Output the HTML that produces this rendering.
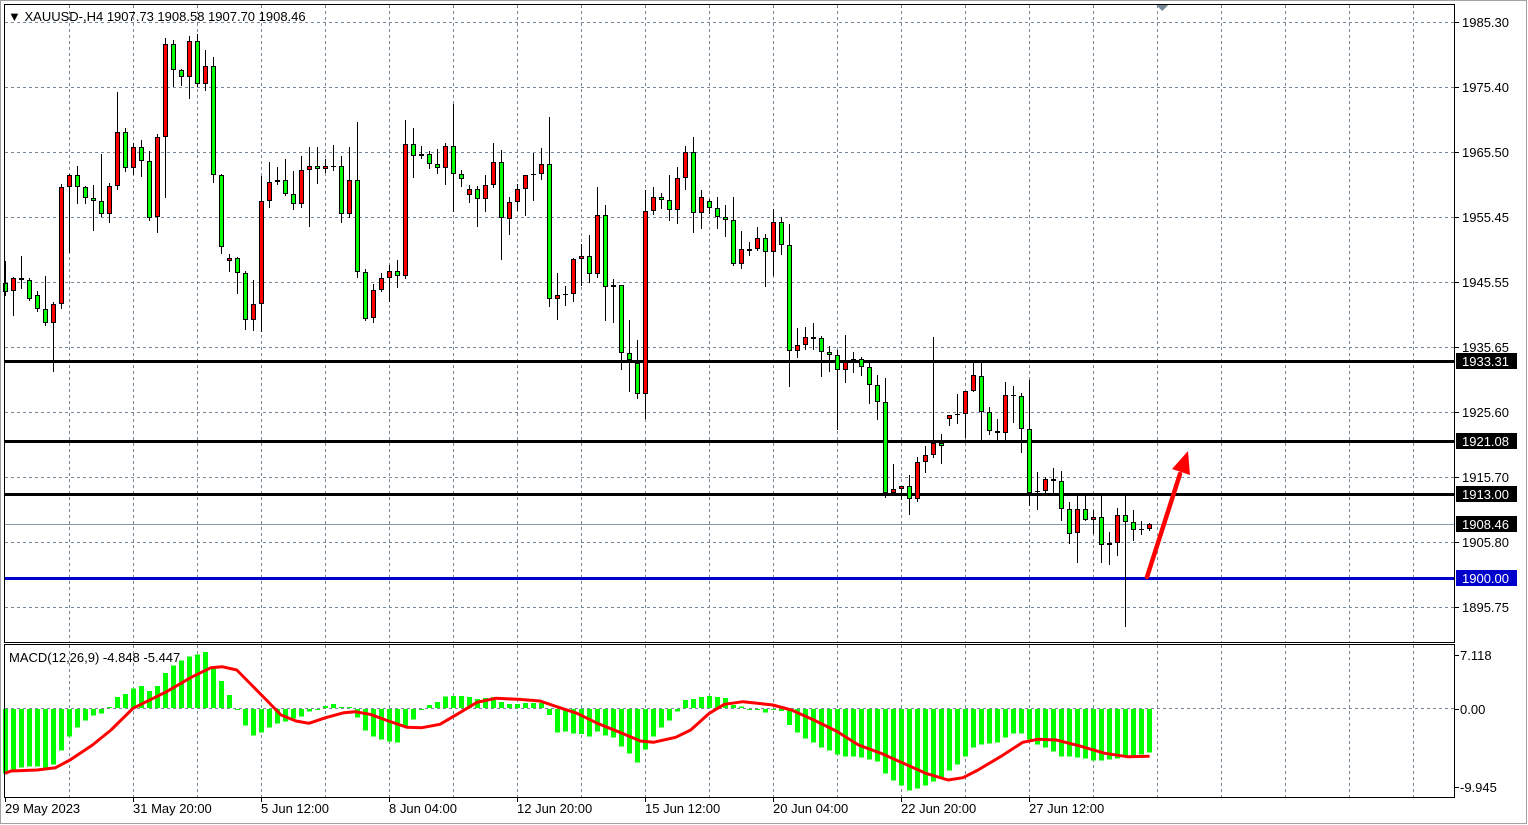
<!DOCTYPE html>
<html><head><meta charset="utf-8"><style>
body{margin:0;background:#fff;width:1528px;height:825px;overflow:hidden}
svg{display:block}
text{font-family:"Liberation Sans",Arial,sans-serif;font-size:13px;fill:#000}
</style></head><body>
<svg id="s" width="1528" height="825" xmlns="http://www.w3.org/2000/svg" shape-rendering="crispEdges">
<rect x="0" y="0" width="1528" height="825" fill="#fff"/>
<rect x="0.5" y="0.5" width="1526" height="823" fill="none" stroke="#a0a0a0"/>
<g id="grid" stroke="#778899" stroke-dasharray="3,3" stroke-width="1"></g>
<g id="lv"></g>
<g id="macd"></g>
<g id="cand"></g>
<!-- frames -->
<rect x="4.5" y="4.5" width="1450" height="638" fill="none" stroke="#000"/>
<rect x="4.5" y="644.5" width="1450" height="153" fill="none" stroke="#000"/>
<polygon points="1156,5 1168,5 1162,11" fill="#778899"/>
<text x="8" y="21">▼ XAUUSD-,H4  1907.73 1908.58 1907.70 1908.46</text>
<text x="9" y="662">MACD(12,26,9) -4.848 -5.447</text>
<g id="ax"></g>
<g shape-rendering="auto">
<line x1="1147" y1="577" x2="1180" y2="474" stroke="#ff0000" stroke-width="4.5" stroke-linecap="round"/>
<polygon points="1188,451 1190,475 1172,469" fill="#ff0000"/>
</g>
</svg>
<script>
var NS="http://www.w3.org/2000/svg";
function el(p,t,a,txt){var e=document.createElementNS(NS,t);for(var k in a)e.setAttribute(k,a[k]);if(txt!==undefined)e.textContent=txt;document.getElementById(p).appendChild(e);return e;}
// grid
for(var x=69;x<=1413;x+=64){el("grid","line",{x1:x+.5,y1:5,x2:x+.5,y2:642});el("grid","line",{x1:x+.5,y1:645,x2:x+.5,y2:797});}
var py=[22,87,152,217,282,347,412,477,542,607],pl=["1985.30","1975.40","1965.50","1955.45","1945.55","1935.65","1925.60","1915.70","1905.80","1895.75"];
for(var i=0;i<py.length;i++){el("grid","line",{x1:5,y1:py[i]+.5,x2:1454,y2:py[i]+.5});
el("ax","line",{x1:1455,y1:py[i]+.5,x2:1459,y2:py[i]+.5,stroke:"#000"});
el("ax","text",{x:1462,y:py[i]+5},pl[i]);}
el("grid","line",{x1:5,y1:708.5,x2:1454,y2:708.5});
// MACD axis labels
[[655,"7.118"],[709,"0.00"],[787,"-9.945"]].forEach(function(a){el("ax","line",{x1:1455,y1:a[0]+.5,x2:1459,y2:a[0]+.5,stroke:"#000"});el("ax","text",{x:1460,y:a[0]+5},a[1]);});
// time labels
[[5,"29 May 2023"],[133,"31 May 20:00"],[261,"5 Jun 12:00"],[389,"8 Jun 04:00"],[517,"12 Jun 20:00"],[645,"15 Jun 12:00"],[773,"20 Jun 04:00"],[901,"22 Jun 20:00"],[1029,"27 Jun 12:00"]].forEach(function(a){
 el("ax","line",{x1:a[0]+.5,y1:797,x2:a[0]+.5,y2:802,stroke:"#000"});el("ax","text",{x:a[0],y:813},a[1]);});
// levels
function lvl(y,c,w,lab,bg){el("lv","rect",{x:5,y:y-Math.floor(w/2),width:1450,height:w,fill:c});
 if(lab){el("ax","rect",{x:1456,y:y-8,width:61,height:16,fill:bg});el("ax","text",{x:1462,y:y+5,style:"fill:#fff"},lab);}}
lvl(361,"#000",3,"1933.31","#000");
lvl(441,"#000",3,"1921.08","#000");
lvl(494,"#000",3,"1913.00","#000");
lvl(524,"#8899aa",1,"1908.46","#000");
lvl(578,"#0000cc",3,"1900.00","#0000cc");
// candles
var C=[[261,283,292,295,'g'],[277,278,291,315,'r'],[256,278,280,288,'g'],[278,280,299,300,'g'],[291,295,309,311,'g'],[276,309,323,325,'g'],[302,304,323,371,'r'],[184,187,304,308,'r'],[174,175,187,252,'r'],[166,175,187,203,'g'],
[186,187,198,203,'g'],[185,198,201,230,'g'],[154,201,214,216,'g'],[183,186,214,222,'r'],[92,132,186,189,'r'],[128,132,168,171,'g'],[143,147,168,174,'r'],[140,147,161,176,'g'],[151,161,218,220,'g'],[134,137,217,232,'r'],
[38,44,137,197,'r'],[40,44,70,86,'g'],[69,70,77,85,'g'],[36,41,77,98,'r'],[34,41,84,86,'g'],[50,66,84,90,'r'],[57,66,175,182,'g'],[174,175,247,253,'g'],[254,258,261,271,'r'],[257,258,273,293,'g'],
[271,273,320,329,'g'],[280,304,320,330,'r'],[176,201,304,331,'r'],[162,182,201,207,'r'],[167,180,182,184,'g'],[159,180,194,195,'g'],[171,194,204,209,'g'],[156,170,204,207,'r'],[147,166,170,226,'r'],[147,166,169,183,'g'],
[159,166,169,172,'r'],[145,166,166,170,'d'],[156,166,214,222,'g'],[147,180,214,217,'r'],[122,180,272,277,'g'],[269,272,319,320,'g'],[284,290,318,322,'r'],[273,278,290,291,'r'],[265,271,278,301,'r'],[260,271,276,287,'g'],
[120,144,276,278,'r'],[128,144,156,177,'g'],[146,154,156,158,'r'],[151,154,164,168,'g'],[149,164,168,173,'g'],[143,146,168,184,'r'],[104,146,174,211,'g'],[170,174,179,186,'g'],[185,189,195,202,'r'],[186,189,199,226,'g'],
[175,185,199,211,'r'],[143,162,185,187,'r'],[150,162,218,259,'g'],[197,202,219,234,'r'],[184,189,202,210,'r'],[175,175,189,215,'r'],[153,174,175,200,'d'],[148,164,174,179,'r'],[117,164,299,306,'g'],[273,295,299,319,'r'],
[286,294,295,305,'d'],[258,259,294,301,'r'],[244,256,259,285,'r'],[235,256,274,282,'g'],[187,215,274,277,'r'],[205,215,287,320,'g'],[279,285,287,322,'r'],[285,285,353,369,'g'],[320,353,360,391,'g'],[340,363,394,398,'g'],
[190,211,394,418,'r'],[187,197,211,214,'r'],[193,197,200,208,'g'],[175,200,210,220,'g'],[167,178,210,223,'r'],[146,152,178,189,'r'],[137,152,213,232,'g'],[190,197,213,228,'r'],[199,201,208,213,'g'],[197,208,217,228,'g'],
[205,217,220,236,'g'],[197,220,264,265,'g'],[231,249,264,268,'r'],[242,249,251,255,'g'],[227,238,249,250,'r'],[234,238,252,286,'g'],[209,222,252,275,'r'],[217,222,245,254,'g'],[224,245,351,386,'g'],[328,345,351,357,'r'],
[327,337,345,349,'r'],[323,337,339,349,'g'],[336,338,352,376,'g'],[346,352,355,371,'g'],[350,355,370,429,'g'],[335,362,370,382,'r'],[352,359,360,372,'d'],[357,359,367,375,'g'],[363,367,385,403,'g'],[375,385,402,419,'g'],
[378,402,493,497,'g'],[464,489,493,493,'r'],[486,486,489,499,'r'],[475,486,499,514,'g'],[457,462,499,501,'r'],[446,455,462,472,'r'],[337,443,455,457,'r'],[434,443,446,463,'g'],[415,415,419,425,'r'],[394,414,415,423,'d'],
[391,391,414,437,'r'],[363,375,391,391,'r'],[363,376,412,439,'g'],[407,412,431,434,'g'],[419,431,433,439,'g'],[382,395,433,439,'r'],[386,395,396,422,'d'],[393,396,429,452,'g'],[380,429,493,505,'g'],[472,491,492,509,'d'],
[477,479,491,493,'r'],[468,479,481,493,'g'],[471,481,509,520,'g'],[502,509,534,543,'g'],[496,509,533,562,'r'],[496,509,520,520,'g'],[510,517,520,533,'r'],[496,517,545,562,'g'],[532,543,545,564,'r'],[508,515,543,555,'r'],
[496,515,522,626,'g'],[510,522,530,540,'g'],[521,529,530,534,'d'],[523,524,529,530,'r']];
C.forEach(function(c,i){var x=Math.round(5.33+8*i);
 el("cand","line",{x1:x+.5,y1:c[0],x2:x+.5,y2:c[3]+1,stroke:"#000"});
 if(c[4]=='d'||c[2]-c[1]<2){el("cand","rect",{x:x-2,y:c[1],width:5,height:Math.max(1,c[2]-c[1]),fill:"#000"});}
 else el("cand","rect",{x:x-1.5,y:c[1]+.5,width:4,height:c[2]-c[1]-1,fill:c[4]=='r'?"#ff0000":"#00ff00",stroke:"#000"});
});
// MACD histogram (pixel offsets from zero, positive = down)
var H=[64.7,61.7,58.7,57.7,57.7,58.7,55.7,41.7,27.7,18.7,11.7,6.7,4.3,-1,-11,-14,-19.3,-22,-17,-22,-35,-42.7,-47.7,-51.7,-53.7,-56,-39.7,-27,-13,1,16.7,26.7,23.7,18.7,14.7,12.7,9.7,7.7,2.7,1,-2,-4,-1,-1,8.7,21.7,27.7,30.7,32.7,33.7,17.7,10.7,1,-3,-6,-11.3,-12,-12,-11,-9,-10,-11,-6,-4,-4,-5,-5,-5,6,23.7,22.7,24.7,
25,27.7,22.7,26.7,28.7,37.7,44.7,53.7,40.7,27.7,18.7,11.7,2.7,-8,-9,-11,-12,-11,-10,-3,-1.3,1,1,3.7,1,2,16,23.7,29.7,33.7,38.7,41.7,45.7,47.7,47.7,48.7,50.7,52.7,64.7,71.7,76.7,81.7,79.7,76.7,72.7,68.7,61.7,55.7,47.7,38.7,35.7,34.7,33.7,28.7,24.7,24.7,30.7,35.7,38.7,42.7,47.7,47.7,48.7,49.7,51.7,51.7,50.7,49.7,47.7,46.7,45.7,43.7];
var Z=708;
H.forEach(function(h,i){var x=Math.round(5.33+8*i);var y0=h>0?Z+1:Z+h,hh=Math.max(1,Math.abs(h));
 el("macd","rect",{x:x-2,y:y0,width:5,height:hh,fill:"#00ff00"});});
var S=[[5,773.3],[11,771],[37,770],[55.5,767.7],[70,760],[92.5,745],[111,730],[133,708.3],[166.5,691.7],[192.4,676.7],[211,667.7],[222,666.7],[236.8,670],[251.6,685],[266.4,700],[281,715],[296,721],[309,723.3],[325.6,717.7],[344,712.7],[355,711.7],[370,714.3],[388.5,721],[407,727.3],[421.8,727.7],[440,724.3],[458.7,713.3],[477,702.3],[495.7,698.3],[518,699.3],[540,701],[558.6,707.3],[577,713.3],[597.4,723.3],[619.8,732.3],[640.3,741],[653.4,742.3],[675.7,737.3],[690.7,730],[709.3,713.3],[724.3,704.3],[743,701.7],[772.8,705],[791.4,710],[813.8,720],[836.2,731],[858.6,745],[881,753.3],[903.4,763.3],[925.7,773.3],[948,780],[963,777.7],[978,770],[1000.4,756.7],[1022.8,742.3],[1037.7,739.3],[1056.3,740],[1078.7,745.7],[1104.9,753.3],[1127.2,756.7],[1149.6,756.3]];
el("macd","polyline",{points:S.map(function(p){return p[0]+","+p[1]}).join(" "),fill:"none",stroke:"#ff0000","stroke-width":3,"shape-rendering":"auto","stroke-linejoin":"round"});
</script>
</body></html>
